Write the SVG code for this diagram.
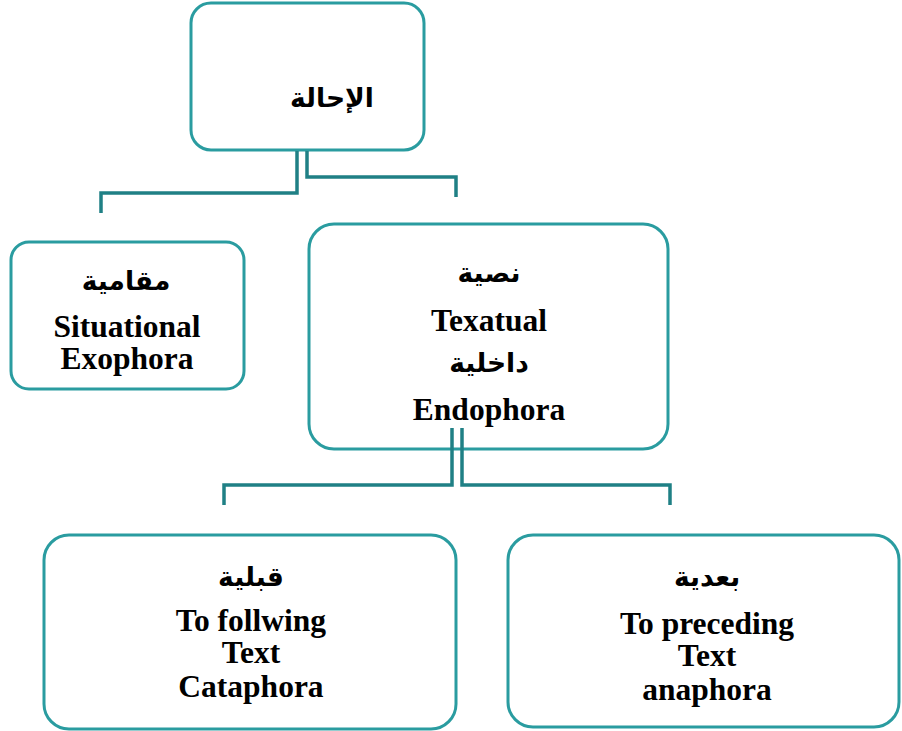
<svg xmlns="http://www.w3.org/2000/svg" width="902" height="731" viewBox="0 0 902 731">
<style>
.box{fill:#fff;stroke:#2a9ca0;stroke-width:3}
.con{fill:none;stroke:#1f8085;stroke-width:3.5}
.en{font-family:"Liberation Serif","Times New Roman",serif;font-weight:bold;font-size:31.5px;fill:#000;text-anchor:middle}
.ar{font-family:"DejaVu Sans","Noto Sans",sans-serif;font-weight:bold;font-size:26.5px;fill:#000;text-anchor:middle}
</style>
<rect width="902" height="731" fill="#fff"/>
<g id="root">
<rect class="box" x="191" y="3" width="233" height="147" rx="20"/>
<text class="ar" x="332" y="107" direction="rtl">الإحالة</text>
</g>
<g id="exophora">
<rect class="box" x="11" y="242" width="233" height="147" rx="18"/>
<text class="ar" x="126" y="290" direction="rtl">مقامية</text>
<text class="en" x="127" y="337">Situational</text>
<text class="en" x="127" y="369">Exophora</text>
</g>
<g id="endophora">
<rect class="box" x="309" y="224" width="359" height="225" rx="25"/>
<text class="ar" x="489" y="282" direction="rtl">نصية</text>
<text class="en" x="489" y="331">Texatual</text>
<text class="ar" x="489" y="372" direction="rtl">داخلية</text>
<text class="en" x="489" y="420">Endophora</text>
</g>
<g id="cataphora">
<rect class="box" x="44" y="535" width="412" height="194" rx="25"/>
<text class="ar" x="251" y="586" direction="rtl">قبلية</text>
<text class="en" x="251" y="631">To follwing</text>
<text class="en" x="251" y="663">Text</text>
<text class="en" x="251" y="697">Cataphora</text>
</g>
<g id="anaphora">
<rect class="box" x="508" y="535" width="391" height="192" rx="25"/>
<text class="ar" x="707" y="586" direction="rtl">بعدية</text>
<text class="en" x="707" y="634">To preceding</text>
<text class="en" x="707" y="666">Text</text>
<text class="en" x="707" y="700">anaphora</text>
</g>
<g id="connectors">
<path class="con" d="M297 151 V193 H101 V213"/>
<path class="con" d="M307 151 V177 H456 V197"/>
<path class="con" d="M452 428 V485 H224 V505"/>
<path class="con" d="M462 428 V485 H670 V505"/>
</g>
</svg>
